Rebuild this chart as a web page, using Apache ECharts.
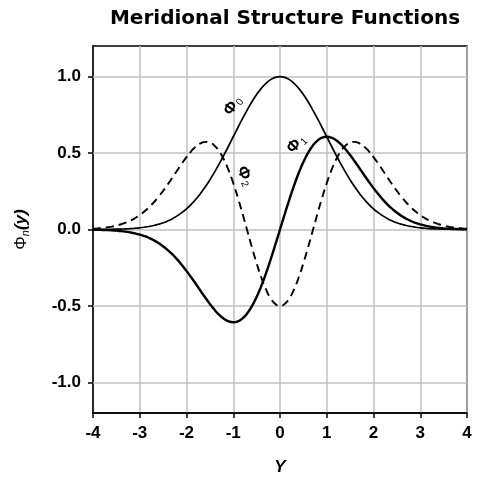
<!DOCTYPE html>
<html><head><meta charset="utf-8">
<script src="https://cdn.jsdelivr.net/npm/echarts@6/dist/echarts.min.js"></script>
<style>html,body{margin:0;padding:0;background:#fff}#c{width:477px;height:481px}</style>
</head><body><div id="c"></div>
<script>
var yVals = [-4.0,-3.9,-3.8,-3.7,-3.6,-3.5,-3.4,-3.3,-3.2,-3.1,-3.0,-2.9,-2.8,-2.7,-2.6,-2.5,-2.4,-2.3,-2.2,-2.1,-2.0,-1.9,-1.8,-1.7,-1.6,-1.5,-1.4,-1.3,-1.2,-1.1,-1.0,-0.9,-0.8,-0.7,-0.6,-0.5,-0.4,-0.3,-0.2,-0.1,0.0,0.1,0.2,0.3,0.4,0.5,0.6,0.7,0.8,0.9,1.0,1.1,1.2,1.3,1.4,1.5,1.6,1.7,1.8,1.9,2.0,2.1,2.2,2.3,2.4,2.5,2.6,2.7,2.8,2.9,3.0,3.1,3.2,3.3,3.4,3.5,3.6,3.7,3.8,3.9,4.0];
var phi0 = [0.0003,0.0005,0.0007,0.0011,0.0015,0.0022,0.0031,0.0043,0.0060,0.0082,0.0111,0.0149,0.0198,0.0261,0.0341,0.0439,0.0561,0.0710,0.0889,0.1103,0.1353,0.1645,0.1979,0.2358,0.2780,0.3247,0.3753,0.4296,0.4868,0.5461,0.6065,0.6670,0.7262,0.7827,0.8353,0.8825,0.9231,0.9560,0.9802,0.9950,1.0000,0.9950,0.9802,0.9560,0.9231,0.8825,0.8353,0.7827,0.7262,0.6670,0.6065,0.5461,0.4868,0.4296,0.3753,0.3247,0.2780,0.2358,0.1979,0.1645,0.1353,0.1103,0.0889,0.0710,0.0561,0.0439,0.0341,0.0261,0.0198,0.0149,0.0111,0.0082,0.0060,0.0043,0.0031,0.0022,0.0015,0.0011,0.0007,0.0005,0.0003];
var phi1 = [-0.0013,-0.0020,-0.0028,-0.0039,-0.0055,-0.0077,-0.0105,-0.0143,-0.0191,-0.0254,-0.0333,-0.0433,-0.0556,-0.0705,-0.0885,-0.1099,-0.1347,-0.1633,-0.1956,-0.2315,-0.2707,-0.3125,-0.3562,-0.4008,-0.4449,-0.4870,-0.5254,-0.5584,-0.5841,-0.6007,-0.6065,-0.6003,-0.5809,-0.5479,-0.5012,-0.4413,-0.3692,-0.2868,-0.1960,-0.0995,0.0000,0.0995,0.1960,0.2868,0.3692,0.4413,0.5012,0.5479,0.5809,0.6003,0.6065,0.6007,0.5841,0.5584,0.5254,0.4870,0.4449,0.4008,0.3562,0.3125,0.2707,0.2315,0.1956,0.1633,0.1347,0.1099,0.0885,0.0705,0.0556,0.0433,0.0333,0.0254,0.0191,0.0143,0.0105,0.0077,0.0055,0.0039,0.0028,0.0020,0.0013];
var phi2 = [0.0053,0.0074,0.0102,0.0140,0.0191,0.0257,0.0342,0.0449,0.0582,0.0746,0.0944,0.1180,0.1456,0.1774,0.2132,0.2527,0.2952,0.3401,0.3859,0.4311,0.4737,0.5115,0.5422,0.5634,0.5728,0.5681,0.5480,0.5112,0.4575,0.3877,0.3033,0.2068,0.1017,-0.0078,-0.1169,-0.2206,-0.3139,-0.3920,-0.4509,-0.4876,-0.5000,-0.4876,-0.4509,-0.3920,-0.3139,-0.2206,-0.1169,-0.0078,0.1017,0.2068,0.3033,0.3877,0.4575,0.5112,0.5480,0.5681,0.5728,0.5634,0.5422,0.5115,0.4737,0.4311,0.3859,0.3401,0.2952,0.2527,0.2132,0.1774,0.1456,0.1180,0.0944,0.0746,0.0582,0.0449,0.0342,0.0257,0.0191,0.0140,0.0102,0.0074,0.0053];
var xTicks = [-4,-3,-2,-1,0,1,2,3,4];
var yTicks = [-1.0,-0.5,0.0,0.5,1.0];
var curveLabels = [
  {name:'0', at:[-1.01,0.81], rot:55},
  {name:'1', at:[0.35,0.56], rot:45},
  {name:'2', at:[-0.75,0.35], rot:-65}
];

function pairs(v){ return yVals.map(function(x,i){return [x,v[i]];}); }
function lbl(k){
  var c = curveLabels[k];
  return {
    symbol:'circle', symbolSize:1, silent:true, itemStyle:{color:'rgba(0,0,0,0)'},
    label:{show:true, position:'inside', rotate:c.rot,
      formatter:'{a|Φ}{s|'+c.name+'}',
      rich:{a:{fontFamily:'Liberation Sans',fontSize:16,fontWeight:'bold',color:'#000'},
            s:{fontFamily:'Liberation Sans',fontSize:10,color:'#000',padding:[8,0,0,1]}}},
    data:[{coord:c.at}]
  };
}
var font = 'Liberation Sans';
var chart = echarts.init(document.getElementById('c'));
chart.setOption({
  animation:false,
  title:{text:'Meridional Structure Functions', left:280, textAlign:'center', top:4,
    textStyle:{fontFamily:'DejaVu Sans', fontSize:20, fontWeight:'bold', color:'#000'}},
  grid:{left:93, right:10, top:46, bottom:65, show:true, borderColor:'#000', borderWidth:1.5, backgroundColor:'transparent'},
  xAxis:{type:'value', min:-4, max:4, interval:1,
    name:'Y', nameLocation:'middle', nameGap:46,
    nameTextStyle:{fontFamily:font, fontSize:17, fontWeight:'bold', fontStyle:'italic', color:'#000'},
    axisLine:{onZero:false, lineStyle:{color:'#000', width:1.5}},
    axisTick:{show:true, length:5, lineStyle:{color:'#000', width:1.5}},
    axisLabel:{fontFamily:font, fontSize:17, fontWeight:'bold', color:'#000', margin:12},
    splitLine:{show:true, lineStyle:{color:'#c0c0c0', width:1.5}}},
  yAxis:{type:'value', min:-1.2, max:1.2,
    name:'{a|Φ}{n|n}{b|(y)}', nameLocation:'middle', nameGap:62,
    nameTextStyle:{rich:{a:{fontFamily:font,fontSize:17,color:'#000'},
      n:{fontFamily:font,fontSize:11,fontStyle:'italic',color:'#000',padding:[8,0,0,0]},
      b:{fontFamily:font,fontSize:17,fontWeight:'bold',fontStyle:'italic',color:'#000'}}},
    axisLine:{onZero:false, lineStyle:{color:'#000', width:1.5}},
    axisTick:{show:true, length:5, customValues:yTicks, lineStyle:{color:'#000', width:1.5}},
    axisLabel:{customValues:yTicks, fontFamily:font, fontSize:17, fontWeight:'bold', color:'#000', margin:12,
      formatter:function(v){return v.toFixed(1);}},
    splitLine:{show:false}},
  series:[
    {type:'line', data:pairs(phi0), showSymbol:false, smooth:true, lineStyle:{color:'#000', width:1.7}, z:3, markPoint:lbl(0),
     markLine:{silent:true, symbol:'none', label:{show:false}, lineStyle:{color:'#c0c0c0', width:1.5, type:'solid'},
       data:yTicks.map(function(t){return {yAxis:t};}), z:1}},
    {type:'line', data:pairs(phi1), showSymbol:false, smooth:true, lineStyle:{color:'#000', width:2.4}, z:3, markPoint:lbl(1)},
    {type:'line', data:pairs(phi2), showSymbol:false, smooth:true, lineStyle:{color:'#000', width:1.9, type:[8,5]}, z:3, markPoint:lbl(2)}
  ]
});
</script></body></html>
